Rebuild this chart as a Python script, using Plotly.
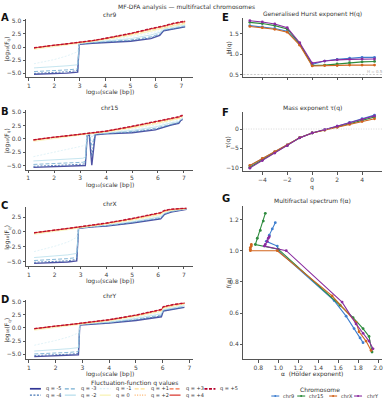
import plotly.graph_objects as go

W, H = 385, 400
def PX(x): return x / W
def PY(y): return 1 - y / H

# ---------------- data ----------------
Q = [-5, -4, -3, -2, -1, 0, 1, 2, 3, 4, 5]
Q_LABELS = ["q = -5", "q = -4", "q = -3", "q = -2", "q = -1", "q = 0",
            "q = +1", "q = +2", "q = +3", "q = +4", "q = +5"]
CHROMS = ["chr9", "chr15", "chrX", "chrY"]

# log10 scale grids
X9 = [1.2, 1.6, 2.0, 2.5, 2.92, 2.98, 3.5, 4.0, 5.0, 5.8, 6.15, 6.3, 6.7, 7.15]
F9 = [
    [-5.22, -5.18, -5.12, -5.0, -4.8, 0.5, 0.72, 0.85, 1.1, 1.6, 2.2, 3.1, 3.4, 3.85],
    [-5.05, -5.0, -4.92, -4.75, -4.5, 0.55, 0.78, 0.9, 1.2, 1.75, 2.35, 3.15, 3.45, 3.9],
    [-4.7, -4.62, -4.52, -4.38, -4.2, 0.6, 0.85, 0.98, 1.35, 1.95, 2.5, 3.25, 3.6, 4.0],
    [-4.0, -3.9, -3.8, -3.6, -3.4, 0.65, 0.92, 1.1, 1.6, 2.3, 2.8, 3.4, 3.8, 4.15],
    [-3.2, -2.8, -2.4, -1.7, -0.9, 0.7, 1.0, 1.25, 1.95, 2.7, 3.1, 3.6, 4.0, 4.3],
    [-0.45, -0.15, 0.1, 0.4, 0.65, 0.72, 1.05, 1.4, 2.2, 3.0, 3.35, 3.6, 4.05, 4.4],
    [-0.25, 0.05, 0.28, 0.55, 0.78, 0.8, 1.12, 1.5, 2.35, 3.2, 3.5, 3.72, 4.2, 4.58],
    [-0.2, 0.1, 0.31, 0.58, 0.81, 0.83, 1.16, 1.56, 2.45, 3.33, 3.63, 3.84, 4.33, 4.72],
    [-0.18, 0.12, 0.33, 0.6, 0.83, 0.85, 1.19, 1.6, 2.52, 3.42, 3.72, 3.93, 4.43, 4.82],
    [-0.17, 0.13, 0.34, 0.61, 0.84, 0.86, 1.21, 1.63, 2.57, 3.48, 3.78, 3.99, 4.5, 4.89],
    [-0.15, 0.14, 0.35, 0.62, 0.85, 0.87, 1.23, 1.66, 2.6, 3.52, 3.83, 4.04, 4.55, 4.95],
]

X15 = [1.2, 1.6, 2.0, 2.5, 3.1, 3.2, 3.27, 3.35, 3.45, 3.58, 4.0, 5.0, 5.9, 6.5, 6.8, 6.87, 6.95]
F15 = [
    [-5.3, -5.25, -5.2, -5.1, -5.0, -4.95, 0.6, 0.85, -4.9, 0.8, 0.95, 1.15, 1.7, 2.6, 2.9, 3.4, 3.65],
    [-5.1, -5.05, -4.95, -4.85, -4.7, -4.6, 0.65, 0.9, -3.2, 0.85, 1.0, 1.25, 1.85, 2.7, 3.0, 3.45, 3.7],
    [-4.75, -4.68, -4.6, -4.5, -4.35, -4.2, 0.7, 0.95, -1.2, 0.9, 1.05, 1.4, 2.0, 2.8, 3.1, 3.5, 3.78],
    [-4.1, -4.0, -3.9, -3.75, -3.6, -3.4, 0.75, 1.0, 0.4, 0.95, 1.1, 1.6, 2.25, 3.0, 3.25, 3.6, 3.88],
    [-3.3, -2.9, -2.5, -1.9, -1.3, -1.1, 0.8, 1.05, 0.9, 1.0, 1.2, 1.85, 2.6, 3.25, 3.5, 3.75, 4.0],
    [-0.45, -0.15, 0.1, 0.4, 0.78, 0.83, 0.88, 0.93, 0.98, 1.03, 1.3, 2.05, 2.8, 3.45, 3.7, 3.88, 4.08],
    [-0.25, 0.05, 0.27, 0.53, 0.85, 0.9, 0.94, 0.99, 1.04, 1.1, 1.36, 2.15, 2.95, 3.6, 3.85, 4.0, 4.2],
    [-0.2, 0.09, 0.3, 0.56, 0.88, 0.93, 0.97, 1.02, 1.08, 1.13, 1.4, 2.23, 3.05, 3.7, 3.96, 4.1, 4.28],
    [-0.18, 0.11, 0.32, 0.58, 0.9, 0.95, 1.0, 1.04, 1.1, 1.15, 1.43, 2.29, 3.12, 3.78, 4.04, 4.18, 4.34],
    [-0.17, 0.12, 0.33, 0.59, 0.91, 0.96, 1.01, 1.05, 1.11, 1.16, 1.45, 2.33, 3.17, 3.83, 4.1, 4.23, 4.38],
    [-0.16, 0.13, 0.34, 0.6, 0.92, 0.97, 1.02, 1.06, 1.12, 1.17, 1.47, 2.37, 3.21, 3.87, 4.15, 4.28, 4.42],
]

XX = [1.2, 1.6, 2.0, 2.5, 2.85, 2.92, 3.5, 4.0, 5.0, 5.8, 6.1, 6.25, 6.5, 7.1]
FX = [
    [-5.27, -5.22, -5.15, -5.05, -4.85, 0.6, 0.85, 1.0, 1.5, 1.95, 2.2, 2.95, 3.35, 3.82],
    [-5.1, -5.05, -4.98, -4.85, -4.6, 0.63, 0.88, 1.04, 1.55, 2.02, 2.3, 3.0, 3.4, 3.84],
    [-4.8, -4.72, -4.62, -4.48, -4.3, 0.66, 0.91, 1.08, 1.62, 2.12, 2.42, 3.06, 3.44, 3.86],
    [-4.3, -4.2, -4.05, -3.85, -3.6, 0.7, 0.95, 1.13, 1.72, 2.27, 2.58, 3.14, 3.5, 3.88],
    [-3.3, -2.9, -2.4, -1.7, -0.9, 0.73, 0.99, 1.19, 1.85, 2.45, 2.76, 3.24, 3.56, 3.9],
    [-0.4, -0.12, 0.1, 0.38, 0.6, 0.66, 1.03, 1.27, 1.98, 2.62, 2.92, 3.34, 3.62, 3.92],
    [-0.22, 0.05, 0.26, 0.52, 0.72, 0.76, 1.08, 1.35, 2.08, 2.74, 3.04, 3.43, 3.68, 3.94],
    [-0.17, 0.09, 0.3, 0.56, 0.76, 0.8, 1.12, 1.4, 2.15, 2.82, 3.12, 3.5, 3.73, 3.96],
    [-0.15, 0.11, 0.32, 0.58, 0.78, 0.82, 1.15, 1.44, 2.2, 2.88, 3.18, 3.55, 3.77, 3.98],
    [-0.14, 0.12, 0.33, 0.59, 0.79, 0.83, 1.17, 1.47, 2.24, 2.92, 3.22, 3.59, 3.8, 4.0],
    [-0.13, 0.13, 0.34, 0.6, 0.8, 0.84, 1.19, 1.5, 2.27, 2.96, 3.26, 3.62, 3.83, 4.02],
]

XY = [1.2, 1.6, 2.0, 2.5, 2.85, 2.9, 3.5, 4.0, 5.0, 5.7, 5.95, 6.02, 6.4, 6.81]
FY = [
    [-5.45, -5.4, -5.35, -5.25, -5.1, 0.55, 0.75, 0.9, 1.4, 1.85, 2.1, 3.2, 3.5, 3.87],
    [-5.25, -5.2, -5.12, -5.0, -4.85, 0.58, 0.8, 0.95, 1.5, 1.98, 2.25, 3.25, 3.56, 3.95],
    [-4.95, -4.88, -4.78, -4.65, -4.5, 0.62, 0.85, 1.02, 1.62, 2.15, 2.42, 3.32, 3.65, 4.05],
    [-4.4, -4.3, -4.15, -3.95, -3.75, 0.66, 0.9, 1.1, 1.8, 2.38, 2.65, 3.42, 3.78, 4.2],
    [-3.3, -2.9, -2.4, -1.7, -0.95, 0.7, 0.96, 1.2, 2.0, 2.65, 2.92, 3.55, 3.95, 4.38],
    [-0.45, -0.15, 0.1, 0.4, 0.6, 0.65, 1.02, 1.32, 2.15, 2.85, 3.12, 3.68, 4.1, 4.5],
    [-0.25, 0.05, 0.27, 0.53, 0.72, 0.75, 1.1, 1.42, 2.26, 2.98, 3.26, 3.8, 4.22, 4.58],
    [-0.2, 0.09, 0.3, 0.57, 0.76, 0.79, 1.14, 1.47, 2.32, 3.06, 3.35, 3.88, 4.3, 4.63],
    [-0.18, 0.11, 0.32, 0.59, 0.78, 0.81, 1.17, 1.5, 2.36, 3.11, 3.41, 3.94, 4.36, 4.66],
    [-0.17, 0.12, 0.33, 0.6, 0.79, 0.82, 1.19, 1.53, 2.39, 3.15, 3.45, 3.98, 4.4, 4.68],
    [-0.16, 0.13, 0.34, 0.61, 0.8, 0.83, 1.21, 1.55, 2.42, 3.18, 3.48, 4.01, 4.43, 4.7],
]

# generalised Hurst exponent H(q)
H9 = [1.70, 1.67, 1.63, 1.56, 1.24, 0.75, 0.83, 0.87, 0.90, 0.92, 0.92]
H15 = [1.78, 1.75, 1.70, 1.62, 1.26, 0.72, 0.73, 0.76, 0.79, 0.81, 0.82]
HX = [1.68, 1.65, 1.61, 1.54, 1.22, 0.71, 0.72, 0.72, 0.73, 0.73, 0.73]
HY = [1.82, 1.79, 1.74, 1.65, 1.28, 0.78, 0.83, 0.86, 0.87, 0.88, 0.88]

# mass exponent tau(q)
T9 = [-9.5, -7.68, -5.89, -4.12, -2.24, -1.0, -0.17, 0.74, 1.7, 2.68, 3.6]
T15 = [-9.9, -8.0, -6.1, -4.24, -2.26, -1.0, -0.27, 0.52, 1.37, 2.24, 3.1]
TX = [-9.4, -7.6, -5.83, -4.08, -2.22, -1.0, -0.28, 0.44, 1.19, 1.92, 2.65]
TY = [-10.1, -8.16, -6.22, -4.3, -2.28, -1.0, -0.17, 0.72, 1.61, 2.52, 3.4]

# multifractal spectrum (alpha, f(alpha)) for q = -5..5
A9 = [1.85, 1.82, 1.76, 1.68, 1.56, 1.00, 0.99, 0.88, 0.91, 0.94, 0.97]
FA9 = [0.41, 0.44, 0.50, 0.58, 0.68, 1.00, 1.03, 1.06, 1.10, 1.14, 1.18]
A15 = [1.94, 1.91, 1.85, 1.75, 1.62, 1.00, 0.77, 0.79, 0.82, 0.85, 0.87]
FA15 = [0.35, 0.45, 0.50, 0.57, 0.65, 1.01, 1.04, 1.08, 1.13, 1.19, 1.24]
AX = [1.93, 1.88, 1.81, 1.78, 1.54, 0.99, 0.72, 0.72, 0.72, 0.73, 0.73]
FAX = [0.36, 0.42, 0.48, 0.54, 0.71, 1.00, 1.00, 1.01, 1.02, 1.03, 1.04]
AY = [1.95, 1.91, 1.85, 1.78, 1.64, 1.08, 0.86, 0.87, 0.89, 0.90, 0.91]
FAY = [0.37, 0.42, 0.47, 0.53, 0.67, 1.00, 1.03, 1.04, 1.06, 1.08, 1.09]

# ---------------- styles ----------------
Q_COLORS = ["#313695", "#4575b4", "#74add1", "#abd9e9", "#d4eef5", "#f7f0a8",
            "#fee090", "#fdae61", "#f46d43", "#d73027", "#b5002a"]
Q_DASH = ["solid", "2px,1.5px", "4px,2px", "solid", "2px,1.5px", "solid",
          "4px,2px", "1px,1.5px", "4px,2px", "solid", "3px,1.5px"]
Q_WIDTH = [1.4, 1.0, 1.0, 0.8, 0.8, 0.8, 0.9, 0.9, 0.9, 0.9, 1.4]
CH_COLORS = ["#3f7fcf", "#2e8b3e", "#d2651d", "#8a2ca0"]

FONT = "DejaVu Sans"
TXT = "#333333"
AX_COL = "#555555"

fig = go.Figure()

left = [("x", "y", X9, F9), ("x2", "y2", X15, F15), ("x3", "y3", XX, FX), ("x4", "y4", XY, FY)]
for xa, ya, xs, fs in left:
    for i, q in enumerate(Q):
        fig.add_trace(go.Scatter(
            x=xs, y=fs[i], mode="lines", xaxis=xa, yaxis=ya, showlegend=False,
            opacity=0.85, name=Q_LABELS[i],
            line=dict(color=Q_COLORS[i], width=Q_WIDTH[i], dash=Q_DASH[i])))

HS = [H9, H15, HX, HY]
TS = [T9, T15, TX, TY]
AS = [A9, A15, AX, AY]
FAS = [FA9, FA15, FAX, FAY]
for c in range(4):
    fig.add_trace(go.Scatter(x=Q, y=HS[c], mode="lines+markers", xaxis="x5", yaxis="y5",
                             showlegend=False, name=CHROMS[c],
                             line=dict(color=CH_COLORS[c], width=1.1),
                             marker=dict(size=2.8, color=CH_COLORS[c])))
    fig.add_trace(go.Scatter(x=Q, y=TS[c], mode="lines+markers", xaxis="x6", yaxis="y6",
                             showlegend=False, name=CHROMS[c],
                             line=dict(color=CH_COLORS[c], width=1.1),
                             marker=dict(size=2.8, color=CH_COLORS[c])))
    fig.add_trace(go.Scatter(x=AS[c], y=FAS[c], mode="lines+markers", xaxis="x7", yaxis="y7",
                             showlegend=False, name=CHROMS[c],
                             line=dict(color=CH_COLORS[c], width=1.1),
                             marker=dict(size=2.8, color=CH_COLORS[c])))

# ---------------- axes ----------------
tickfont = dict(family=FONT, size=6, color="#444444")
def axis(dom, rng, anchor, tickvals, fmt=None, labels=True):
    d = dict(domain=dom, range=rng, anchor=anchor, tickvals=tickvals, ticks="outside",
             ticklen=2.5, tickwidth=0.7, tickcolor=AX_COL, showline=True, linecolor=AX_COL,
             linewidth=0.8, showgrid=False, zeroline=False, tickfont=tickfont,
             showticklabels=labels, fixedrange=True)
    if fmt:
        d["tickformat"] = fmt
    return d

LX = [PX(26), PX(194)]
RX = [PX(244), PX(383)]
def dy(top, bot): return [PY(bot), PY(top)]

xt = [1, 2, 3, 4, 5, 6, 7]
yt = [-5, -2.5, 0, 2.5, 5]
layout = dict(
    xaxis=axis(LX, [0.882, 7.48], "y", xt),
    yaxis=axis(dy(17, 76), [-5.82, 5.38], "x", yt, ".1f"),
    xaxis2=axis(LX, [0.91, 7.37], "y2", xt),
    yaxis2=axis(dy(109, 169), [-5.74, 5.37], "x2", yt, ".1f"),
    xaxis3=axis(LX, [0.884, 7.37], "y3", xt),
    yaxis3=axis(dy(207, 266), [-5.72, 4.12], "x3", [-5, -2.5, 0, 2.5], ".1f"),
    xaxis4=axis(LX, [0.888, 7.15], "y4", xt),
    yaxis4=axis(dy(300, 360), [-5.96, 5.32], "x4", yt, ".1f"),
    xaxis5=axis(RX, [-5.52, 5.6], "y5", [-4, -2, 0, 2, 4], labels=False),
    yaxis5=axis(dy(16, 75.5), [0.44, 1.89], "x5", [0.5, 1.0, 1.5], ".1f"),
    xaxis6=axis(RX, [-5.52, 5.6], "y6", [-4, -2, 0, 2, 4]),
    yaxis6=axis(dy(111, 170.5), [-10.9, 4.36], "x6", [-10, -5, 0]),
    xaxis7=axis(RX, [0.65, 2.04], "y7", [0.8, 1.0, 1.2, 1.4, 1.6, 1.8, 2.0], ".1f"),
    yaxis7=axis(dy(206, 360), [0.303, 1.284], "x7", [0.4, 0.6, 0.8, 1.0, 1.2], ".1f"),
)

shapes = []
annotations = []
def ann(x, y, text, size=6, color=TXT, angle=0, bold=False, xanchor="center"):
    if bold:
        text = "<b>" + text + "</b>"
    annotations.append(dict(x=PX(x), y=PY(y), xref="paper", yref="paper", text=text,
                            showarrow=False, textangle=angle, xanchor=xanchor, yanchor="middle",
                            font=dict(family=FONT, size=size, color=color)))

# reference lines
shapes.append(dict(type="line", xref="x5 domain", yref="y5", x0=0, x1=1, y0=0.5, y1=0.5,
                   line=dict(color="#bbbbbb", width=0.8, dash="2px,1.5px")))
shapes.append(dict(type="line", xref="x6 domain", yref="y6", x0=0, x1=1, y0=0, y1=0,
                   line=dict(color="#cccccc", width=0.8, dash="1px,1.5px")))
ann(376, 70.5, "H = 0.5", size=4, color="#aaaaaa")

# titles
ann(187, 5, "MF-DFA analysis — multifractal chromosomes", size=6)
ann(110, 13, "chr9")
ann(110, 106, "chr15")
ann(110, 203, "chrX")
ann(110, 296, "chrY")
ann(313, 12, "Generalised Hurst exponent H(q)")
ann(313, 107, "Mass exponent τ(q)")
ann(313, 200, "Multifractal spectrum f(α)")

# panel letters
for (x, y, t) in [(5, 15.5, "A"), (5, 110, "B"), (5, 205, "C"), (5, 300, "D"),
                  (226, 16, "E"), (226, 111, "F"), (227, 198, "G")]:
    ann(x, y, t, size=10, color="#111111", bold=True)

# axis titles
ylab = "log₁₀⟨F<sub>q</sub>⟩"
xlab = "log₁₀(scale [bp])"
for top, bot, xl in [(17, 76, 90.5), (109, 169, 184), (207, 266, 281), (300, 360, 374.5)]:
    ann(7, (top + bot) / 2, ylab, angle=-90)
    ann(110, xl, xlab)
ann(229, 46, "H(q)", angle=-90)
ann(229, 141, "τ(q)", angle=-90)
ann(229, 283, "f(α)", angle=-90)
ann(313, 186.5, "q")
ann(313, 375, "α  (Hölder exponent)")

# legend 1: fluctuation-function q values
ann(135, 383.8, "Fluctuation-function q values", size=6)
for i, lab in enumerate(Q_LABELS):
    col, row = i // 2, i % 2
    y = 389.7 + row * 6.4
    x0 = 30 + 35 * col
    shapes.append(dict(type="line", xref="paper", yref="paper", x0=PX(x0), x1=PX(x0 + 11),
                       y0=PY(y), y1=PY(y),
                       line=dict(color=Q_COLORS[i], width=Q_WIDTH[i] + 0.3, dash=Q_DASH[i])))
    ann(x0 + 14, y, lab, size=5, xanchor="left")

# legend 2: chromosomes
ann(321, 390, "Chromosome", size=6)
for c, (sx, tx) in enumerate([(272, 282), (298, 308), (330, 340), (355, 366)]):
    y = 397
    shapes.append(dict(type="line", xref="paper", yref="paper", x0=PX(sx), x1=PX(sx + 8),
                       y0=PY(y), y1=PY(y), line=dict(color=CH_COLORS[c], width=1.1)))
    shapes.append(dict(type="circle", xref="paper", yref="paper",
                       x0=PX(sx + 3), x1=PX(sx + 5), y0=PY(y + 1), y1=PY(y - 1),
                       fillcolor=CH_COLORS[c], line=dict(width=0)))
    ann(tx, y, CHROMS[c], size=5, xanchor="left")

fig.update_layout(
    width=W, height=H, margin=dict(l=0, r=0, t=0, b=0),
    paper_bgcolor="white", plot_bgcolor="white", showlegend=False,
    font=dict(family=FONT, size=6, color=TXT),
    shapes=shapes, annotations=annotations, **layout)

fig.write_html("out.html", config={"displayModeBar": False})
